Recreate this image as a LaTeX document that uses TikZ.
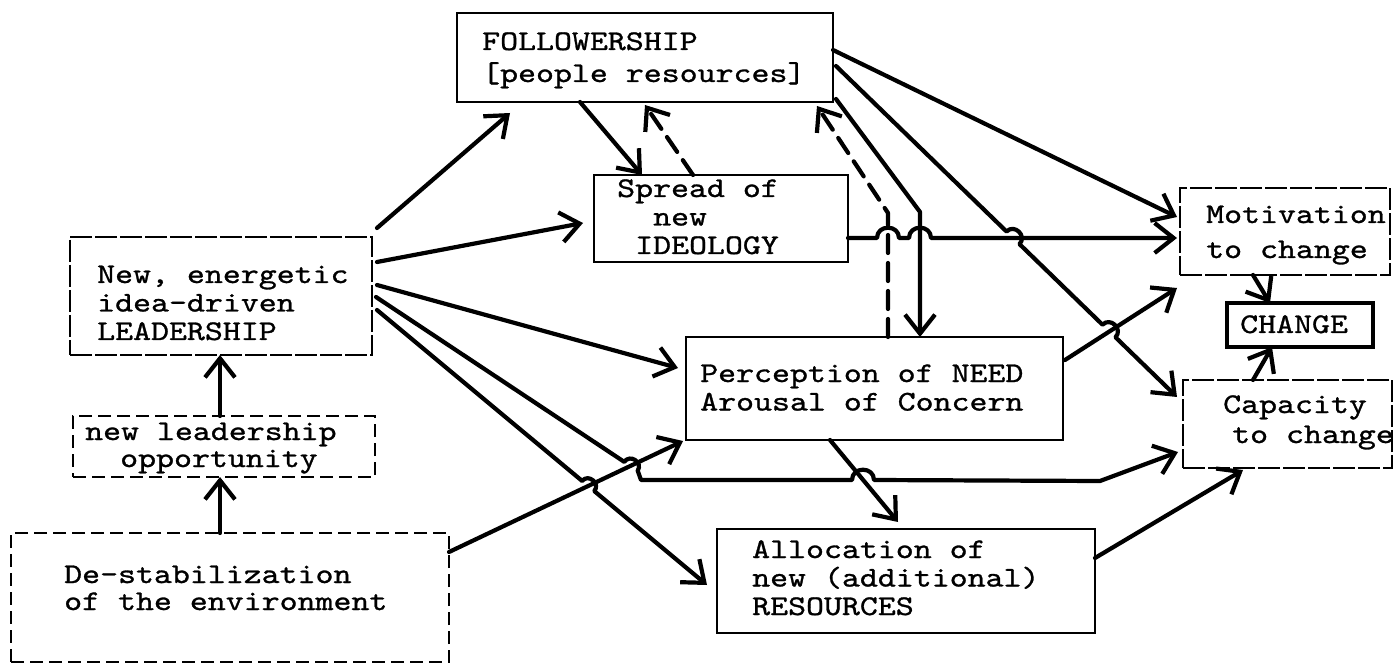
\documentclass[tikz,border=0pt]{standalone}
\usepackage{fontspec}
\newfontfamily\tw{lmmono10-regular.otf}[FakeStretch=1.2,FakeBold=1]
\usetikzlibrary{arrows.meta,calc}

\begin{document}
\begin{tikzpicture}[x=1pt,y=-1pt,
  box/.style={draw, line width=2.4pt, inner sep=0pt, outer sep=0pt, anchor=north west},
  longdash/.style={dash pattern=on 22pt off 3pt},
  shortdash/.style={dash pattern=on 13pt off 6pt},
  txt/.style={anchor=base west, inner sep=0pt, align=left,
    font=\tw\fontsize{28.5}{28.5}\selectfont,
    execute at begin node={\spaceskip=17.96pt\relax}},
  conn/.style={line width=4.2pt, line join=round, line cap=round,
    -{Straight Barb[length=19pt,width=30pt]}},
  dconn/.style={conn, dash pattern=on 18pt off 10pt},
  hop/.style={bend left=90, looseness=1.6}
]
\fill[white] (0,0) rectangle (1395,668);
\useasboundingbox (0,0) rectangle (1395,668);

% boxes
\node[box, longdash, minimum width=302pt, minimum height=118pt] (lead) at (70,237) {};
\node[box, shortdash, minimum width=302pt, minimum height=61pt] (opp) at (73,416) {};
\node[box, shortdash, minimum width=438pt, minimum height=129pt] (destab) at (11,533) {};
\node[box, minimum width=376pt, minimum height=89pt] (fol) at (457,13) {};
\node[box, minimum width=254pt, minimum height=87pt] (spread) at (594,175) {};
\node[box, minimum width=377pt, minimum height=103pt] (perc) at (686,337) {};
\node[box, minimum width=378pt, minimum height=104pt] (alloc) at (717,529) {};
\node[box, longdash, minimum width=210pt, minimum height=87pt] (mot) at (1180,188) {};
\node[box, line width=3.4pt, minimum width=146pt, minimum height=44pt] (change) at (1227,303) {};
\node[box, longdash, minimum width=209pt, minimum height=88pt] (cap) at (1183,380) {};

% box texts
\node[txt, text width=262pt] (leadT) at (97,283) {New, energetic\\idea-driven\\LEADERSHIP};
\node[txt, text width=280pt] (oppT) at (85,440) {new leadership\\[-1.5pt]\hspace*{35pt}opportunity};
\node[txt, text width=340pt] (destabT) at (64,583) {De-stabilization\\[-1.5pt]of the environment};
\node[txt, text width=335pt] (folT) at (482,50) {FOLLOWERSHIP\\[3.5pt]{[}people resources{]}};
\node[txt, text width=200pt] (spreadT) at (617,197) {Spread of\\\hspace*{36pt}new\\\hspace*{18pt}IDEOLOGY};
\node[txt, text width=340pt] (percT) at (700,382) {Perception of NEED\\Arousal of Concern};
\node[txt, text width=300pt] (allocT) at (752,558) {Allocation of\\new (additional)\\RESOURCES};
\node[txt, text width=182pt] (motT) at (1206,223) {Motivation\\[6.5pt]to change};
\node[txt, text width=120pt] (changeT) at (1240,333) {CHANGE};
\node[txt, text width=175pt] (capT) at (1223,413) {Capacity\\[1.5pt]\hspace*{9pt}to change};

% left column
\draw[conn] ($(destab.north west)+(209,0)$) -- ($(opp.south west)+(147,0)$);
\draw[conn] ($(opp.north west)+(147,0)$) -- ($(lead.south west)+(150,0)$);

% from leadership
\draw[conn] ($(lead.north east)+(5,-9)$) -- ($(fol.south west)+(53,11)$);
\draw[conn] ($(lead.east)+(5,-34)$) -- ($(spread.west)+(-11,4.5)$);
\draw[conn] ($(lead.east)+(5,-11)$) -- ($(perc.north west)+(-8,31)$);
\draw[conn] ($(lead.east)+(4,1)$) -- (624.3,461.9) to[hop] (637.7,470.7) -- (641,480)
  -- (852,480) to[hop] (874,480) -- (1100,481) -- ($(cap.west)+(-5,28)$);
\draw[conn] ($(lead.east)+(5,14)$) -- (582.1,480.9) to[hop] (594.3,491.1) -- ($(alloc.west)+(-10,4)$);

% from de-stabilization
\draw[conn] ($(destab.north east)+(0,19)$) -- ($(perc.south west)+(-3,1)$);

% followership and ideology
\draw[conn] ($(fol.south west)+(123,0)$) -- ($(spread.north west)+(48,0)$);
\draw[dconn] ($(spread.north west)+(99,0)$) -- ($(fol.south west)+(188,3)$);
\draw[conn] ($(fol.east)+(0,-7.5)$) -- ($(mot.west)+(-3,-14.5)$);
\draw[conn] ($(fol.east)+(3,8.5)$) -- (1006.5,231.5) to[hop] (1019.5,244.1)
  -- (1102.5,324.7) to[hop] (1115.5,337.3) -- ($(cap.west)+(-6,-27)$);
\draw[conn] ($(fol.south east)+(3,-3)$) -- (920,212) -- ($(perc.north west)+(234,0)$);
\draw[dconn] ($(perc.north west)+(202,0)$) -- (888,213) -- ($(fol.south east)+(-16,4)$);
\draw[conn] ($(spread.east)+(0,19.5)$) -- (877,238) to[hop] (899,238) -- (909,238)
  to[hop] (931,238) -- ($(mot.west)+(-3,6.5)$);

% from perception and allocation
\draw[conn] ($(perc.east)+(2,-28.5)$) -- ($(mot.south west)+(-3,13)$);
\draw[conn] ($(perc.south west)+(144,0)$) -- ($(alloc.north west)+(181,-7)$);
\draw[conn] ($(alloc.east)+(0,-23)$) -- ($(cap.south west)+(60,2)$);

% into change
\draw[conn] ($(mot.south west)+(73,0)$) -- ($(change.north west)+(43,0)$);
\draw[conn] ($(cap.north west)+(70,0)$) -- ($(change.south west)+(45,0)$);
\end{tikzpicture}
\end{document}
